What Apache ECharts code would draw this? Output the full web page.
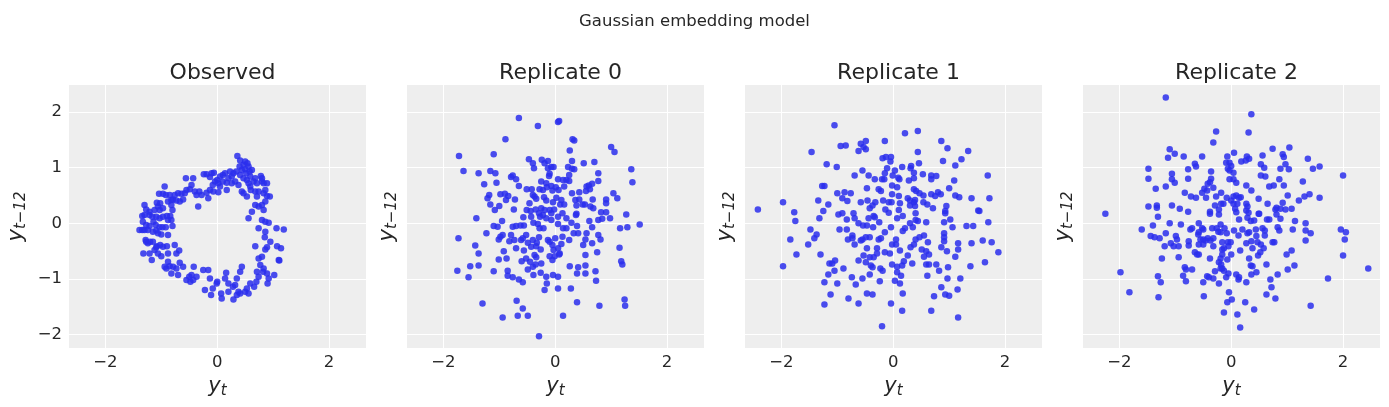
<!DOCTYPE html>
<html>
<head>
<meta charset="utf-8">
<script src="https://cdn.jsdelivr.net/npm/echarts@6/dist/echarts.min.js"></script>
<style>
  html, body { margin: 0; background: #fff; }
  #chart { width: 1389px; height: 407px; }
</style>
</head>
<body>
<div id="chart"></div>
<script>
// panel titles and tick values
const suptitle = "Gaussian embedding model";
const panelTitles = ["Observed", "Replicate 0", "Replicate 1", "Replicate 2"];
const xTicks = [-2, 0, 2];
const yTicks = [-2, -1, 0, 1, 2];

// [y_t, y_{t-12}] pairs
const observed = [
  [0.36,1.21],[0.41,1.13],[0.50,1.11],[0.47,1.05],[0.54,1.08],[0.40,1.02],[0.44,0.96],[0.50,0.97],[0.56,1.02],[0.52,0.90],[0.58,0.93],[0.62,0.96],[0.59,0.84],[0.53,0.78],[0.47,0.81],[0.41,0.87],[0.34,0.93],[0.29,0.90],[0.23,0.93],[0.26,0.84],[0.20,0.81],[0.14,0.90],[0.10,0.87],[0.05,0.84],[0.00,0.78],[-0.04,0.75],[-0.08,0.69],[-0.13,0.83],[-0.19,0.88],[-0.24,0.88],[-0.10,0.90],[-0.06,0.91],[0.02,0.72],[0.05,0.66],[0.10,0.75],[0.17,0.73],[0.17,0.60],[0.02,0.56],[-0.07,0.57],[0.26,0.72],[0.32,0.75],[0.38,0.69],[0.44,0.57],[0.47,0.54],[0.53,0.48],[0.56,0.72],[0.65,0.75],[0.68,0.81],[0.71,0.72],[0.78,0.85],[0.80,0.75],[0.83,0.72],[0.89,0.72],[0.86,0.60],[0.83,0.54],[0.74,0.57],[0.71,0.48],[0.68,0.57],[0.60,0.60],[0.59,0.66],[0.80,0.81],
  [0.89,0.49],[0.94,0.48],[0.86,0.39],[0.80,0.33],[0.83,0.24],[0.74,0.30],[0.68,0.33],[0.62,0.21],[0.56,0.09],[0.80,0.06],[0.86,0.03],[0.92,0.01],[0.74,-0.09],[0.86,-0.15],[1.06,-0.09],[1.19,-0.11],[0.85,-0.25],[0.95,-0.33],[0.89,-0.43],[0.86,-0.47],[1.07,-0.41],[1.14,-0.45],[0.68,-0.41],[0.74,-0.63],[0.80,-0.60],[0.77,-0.75],[0.83,-0.81],[0.89,-0.90],[0.92,-0.99],[0.90,-1.08],[1.02,-0.93],[1.10,-0.66],[1.11,-0.67],[0.82,-0.87],[0.71,-0.87],[0.74,-0.96],[0.70,-1.05],[0.66,-1.14],[0.59,-1.08],[0.53,-1.17],[0.50,-1.23],[0.56,-1.26],[0.44,-0.78],[0.41,-0.87],[0.35,-0.99],[0.32,-1.11],[0.28,-1.14],[0.38,-1.23],[0.41,-1.26],[0.35,-1.29],[0.29,-1.37],[0.20,-1.08],[0.20,-1.23],[0.16,-0.89],[0.14,-0.99],[0.07,-1.26],[0.08,-1.35],[0.00,-1.05],[-0.01,-1.08],[-0.08,-1.17],[-0.13,-0.99],[-0.11,-1.29],[-0.22,-1.20],[-0.16,-0.84],[-0.25,-0.84],[-0.37,-0.96],[-0.42,-0.78],[-0.46,-0.93],[-0.50,-0.96],[-0.55,-1.02],[-0.48,-1.05],[-0.43,-1.02],[-0.61,-0.78],[-0.67,-0.71],[-0.73,-0.81],[-0.70,-0.93],[-0.79,-0.78],[-0.85,-0.77],[-0.91,-0.81],[-0.94,-0.78],[-0.88,-0.69],[-0.82,-0.90],
  [-0.73,-0.54],[-0.68,-0.49],[-0.76,-0.39],[-0.90,-0.41],[-0.88,-0.54],[-1.00,-0.59],[-1.06,-0.54],[-1.09,-0.43],[-1.12,-0.48],[-1.17,-0.66],[-1.21,-0.54],[-1.32,-0.54],[-1.24,-0.36],[-1.27,-0.33],[-1.20,-0.33],[-1.28,-0.30],[-1.15,-0.33],[-1.08,-0.41],[-1.02,-0.39],[-0.97,-0.42],[-0.88,-0.21],[-1.00,-0.20],[-1.06,-0.18],[-1.09,-0.13],[-1.15,-0.15],[-1.24,-0.12],[-1.30,-0.12],[-1.39,-0.12],[-1.34,-0.12],[-1.33,0.03],[-1.27,-0.03],[-1.21,-0.05],[-1.14,0.03],[-1.10,-0.03],[-1.03,-0.07],[-0.98,-0.07],[-0.92,-0.07],[-0.80,-0.05],[-0.88,0.06],[-0.82,0.06],[-0.84,0.13],[-0.90,0.13],[-0.97,0.12],[-1.03,0.09],[-1.09,0.12],[-1.16,0.12],[-1.21,0.15],[-1.30,0.15],[-1.34,0.13],[-1.30,0.33],[-1.27,0.25],[-1.21,0.21],[-1.12,0.24],[-1.06,0.30],[-1.03,0.24],[-0.97,0.27],[-1.02,0.36],[-1.08,0.37],[-1.04,0.53],[-0.97,0.53],[-0.92,0.51],[-0.85,0.51],[-0.82,0.42],[-0.79,0.43],[-0.80,0.24],[-0.82,0.33],[-0.73,0.41],[-0.67,0.39],[-0.61,0.43],[-0.58,0.54],[-0.55,0.60],[-0.49,0.61],[-0.43,0.81],[-0.46,0.69],[-0.56,0.81],[-0.40,0.57],[-0.37,0.51],[-0.32,0.57],[-0.28,0.51],[-0.16,0.45],[-0.34,0.30],[-0.94,0.66],[-0.70,0.54],[-0.64,0.53],[-0.76,0.51],[-0.88,0.39],[-0.19,0.55],[-0.13,0.60]
];

const replicate0 = [
  [-0.65,1.89],[-0.31,1.75],[0.05,1.82],[0.07,1.84],[-0.89,1.51],[0.31,1.51],[0.34,1.49],[1.00,1.37],[1.06,1.28],[-1.72,1.21],[-1.10,1.24],[0.26,1.31],[-0.47,1.15],[-0.40,1.08],[-0.38,0.99],[-0.24,1.14],[-0.19,1.08],[-0.13,1.12],[-0.13,0.99],[-0.07,1.01],[-0.03,1.01],[-0.10,0.89],[-0.11,0.85],[0.30,1.12],[0.23,1.01],[0.30,0.98],[0.34,0.97],[0.51,1.08],[0.70,1.10],[0.77,0.90],[0.77,0.76],[1.36,0.97],[1.38,0.74],[-1.64,0.94],[-1.37,0.90],[-1.16,0.94],[-1.07,0.90],[-1.27,0.70],[-1.05,0.73],[-0.79,0.83],[-0.76,0.86],[-0.70,0.79],[-0.65,0.67],[-0.51,0.61],[-0.42,0.61],[-0.25,0.75],[-0.16,0.72],[-0.28,0.61],[-0.22,0.60],[-0.15,0.65],[-0.07,0.67],[0.01,0.65],[-0.05,0.59],[0.05,0.79],[0.14,0.78],[0.20,0.78],[0.25,0.76],[0.25,0.87],[0.16,0.66],[0.06,0.60],[0.30,0.54],[0.43,0.56],[0.56,0.66],[0.60,0.68],[0.66,0.71],[0.62,0.61],[0.55,0.58],[1.04,0.54],[1.11,0.45],[0.91,0.43],[0.91,0.36],[0.67,0.43],[-1.21,0.45],[-1.18,0.51],[-1.16,0.34],[-1.08,0.24],[-1.00,0.31],[-0.98,0.52],[-0.90,0.53],[-0.84,0.49],[-0.88,0.42],[-0.72,0.43],[-0.74,0.25],[-1.41,0.09],[-0.95,0.04],[-1.10,-0.05],[-1.03,-0.06],
  [-0.40,0.51],[-0.37,0.48],[-0.46,0.36],[-0.34,0.44],[-0.20,0.47],[-0.16,0.41],[-0.04,0.38],[0.02,0.46],[0.11,0.42],[0.09,0.34],[0.16,0.34],[0.36,0.42],[0.43,0.43],[0.38,0.32],[0.49,0.34],[0.53,0.34],[0.63,0.30],[0.68,0.27],[-0.51,0.24],[-0.44,0.22],[-0.35,0.25],[-0.25,0.27],[-0.19,0.24],[-0.10,0.24],[-0.02,0.25],[-0.57,0.11],[-0.43,0.12],[-0.29,0.18],[-0.27,0.12],[-0.22,0.15],[-0.16,0.09],[-0.07,0.18],[0.05,0.12],[0.13,0.18],[0.20,0.09],[0.37,0.15],[0.38,0.17],[0.61,0.04],[0.77,0.06],[0.84,0.08],[0.82,0.20],[0.91,0.20],[0.98,0.09],[1.27,0.16],[1.16,-0.09],[1.29,-0.07],[1.51,-0.02],[-0.76,-0.06],[-0.70,-0.05],[-0.62,-0.04],[-0.56,-0.04],[-0.39,0.01],[-0.31,-0.01],[-0.07,0.06],[0.05,-0.01],[0.14,-0.09],[0.20,-0.09],[0.29,0.01],[0.39,-0.05],[0.66,-0.07],
  [-1.73,-0.27],[-1.75,-0.85],[-1.55,-0.97],[-1.52,-0.77],[-1.37,-0.76],[-1.37,-0.54],[-1.43,-0.40],[-1.23,-0.18],[-1.10,-0.86],[-1.01,-0.65],[-0.92,-0.50],[-0.87,-0.63],[-0.85,-0.85],[-0.85,-0.94],[-0.76,-0.97],[-0.65,-1.01],[-0.58,-1.06],[-1.01,-0.29],[-0.98,-0.24],[-0.94,-0.21],[-0.82,-0.32],[-0.79,-0.21],[-0.73,-0.30],[-0.70,-0.45],[-0.61,-0.30],[-0.58,-0.27],[-0.52,-0.21],[-0.49,-0.35],[-0.43,-0.42],[-0.40,-0.30],[-0.33,-0.35],[-0.34,-0.41],[-0.56,-0.49],[-0.60,-0.68],[-0.52,-0.63],[-0.49,-0.83],[-0.45,-0.69],[-0.40,-0.78],[-0.37,-0.57],[-0.34,-0.61],[-0.39,-0.93],[-0.35,-0.74],[-0.25,-0.72],[-0.26,-0.89],[-0.26,-0.47],[-0.29,-0.25],[-0.28,-0.09],[-0.21,-0.09],[-0.13,-0.30],[-0.10,-0.33],[-0.05,-0.39],[-0.03,-0.48],[0.00,-0.27],[0.05,-0.45],[0.08,-0.54],[0.11,-0.37],[0.13,-0.24],[0.25,-0.30],[0.33,-0.18],[0.41,-0.18],[0.54,-0.29],[0.56,-0.18],[0.77,-0.21],[0.81,-0.29],[0.50,-0.39],[0.54,-0.57],[0.66,-0.36],[0.75,-0.52],[-0.10,-0.59],[-0.05,-0.66],[-0.01,-0.59],[0.07,-0.56],[-0.16,-0.96],[-0.04,-0.93],[0.05,-0.96],[-0.15,-1.08],[-0.19,-1.20],[0.05,-1.17],[0.28,-1.17],[0.26,-0.77],[0.41,-0.79],[0.39,-0.90],[0.54,-0.76],[0.54,-0.90],[0.72,-0.86],[0.73,-1.03],[1.15,-0.44],[1.18,-0.68],[1.20,-0.74],[-1.30,-1.44],[-0.94,-1.69],[-0.69,-1.39],[-0.58,-1.53],[-0.67,-1.66],[-0.49,-1.66],[-0.29,-2.03],[0.14,-1.66],[0.39,-1.42],[0.79,-1.48],[1.24,-1.37],[1.25,-1.48]
];

const replicate1 = [
  [-1.05,1.76],[0.21,1.62],[0.44,1.66],[-1.46,1.28],[-0.94,1.39],[-0.85,1.40],[-0.58,1.43],[-0.49,1.48],[-0.53,1.37],[-0.49,1.33],[-0.62,1.30],[-0.15,1.48],[0.86,1.48],[0.97,1.35],[1.34,1.30],[0.44,1.28],[-1.19,1.06],[-1.01,1.01],[-0.19,1.17],[-0.13,1.19],[-0.04,1.19],[-0.05,1.11],[0.46,1.08],[0.32,1.03],[0.31,0.99],[0.89,1.12],[1.22,1.15],[1.11,1.04],[1.69,0.86],[-0.55,0.95],[-0.69,0.86],[-0.44,0.86],[-0.33,0.79],[-0.20,0.79],[-0.16,0.79],[-0.15,0.90],[-0.11,0.99],[0.03,0.95],[-0.01,0.86],[0.09,0.82],[0.11,0.79],[0.16,1.01],[0.28,0.77],[0.37,0.91],[0.37,0.81],[0.53,0.88],[0.68,0.86],[0.77,0.85],[0.68,0.79],[1.09,0.77],[-1.27,0.67],[-1.23,0.67],[-1.00,0.54],[-0.87,0.56],[-0.76,0.54],[-0.91,0.45],[-0.82,0.40],[-1.34,0.41],[-1.16,0.34],[-1.25,0.22],[-1.32,0.09],[-1.97,0.38],[-1.77,0.20],[-1.75,0.04],[-2.42,0.25],[-1.48,-0.11],
  [-0.47,0.63],[-0.58,0.38],[-0.46,0.41],[-0.32,0.38],[-0.37,0.32],[-0.42,0.27],[-0.26,0.61],[-0.22,0.58],[-0.18,0.41],[-0.08,0.38],[-0.03,0.38],[-0.02,0.68],[0.07,0.65],[-0.02,0.52],[0.10,0.49],[0.12,0.36],[-0.14,0.25],[-0.08,0.19],[0.10,0.24],[0.17,0.13],[0.26,0.45],[0.30,0.41],[0.39,0.42],[0.37,0.61],[0.41,0.58],[0.47,0.54],[0.54,0.50],[0.37,0.38],[0.30,0.32],[0.39,0.31],[0.54,0.38],[0.61,0.34],[0.68,0.52],[0.75,0.49],[0.80,0.56],[0.85,0.52],[1.00,0.63],[1.11,0.50],[1.18,0.47],[1.40,0.45],[1.72,0.45],[0.71,0.27],[0.95,0.31],[0.93,0.22],[0.93,0.18],[1.02,0.07],[0.91,0.02],[1.52,0.23],[1.54,0.22],[1.70,0.02],[1.31,-0.05],[1.43,-0.05],[1.06,-0.07],[0.40,0.18],[0.40,0.06],[0.44,0.04],[0.59,0.02],[0.30,0.00],[0.35,-0.07],[0.21,-0.09],[-0.04,-0.07],[0.07,0.09],[-0.25,0.02],[-0.35,0.13],[-0.33,0.11],[-0.44,0.09],[-0.47,-0.04],[-0.36,-0.07],[-0.62,0.00],[-0.69,0.09],[-0.71,0.18],[-0.83,0.07],[-0.91,0.18],[-0.98,0.16],[-0.96,-0.11],[-0.83,-0.11],[-0.54,-0.04],
  [-1.97,-0.77],[-1.84,-0.29],[-1.73,-0.56],[-1.52,-0.38],[-1.37,-0.20],[-1.41,-0.27],[-1.30,-0.56],[-1.16,-0.92],[-1.23,-1.06],[-1.12,-1.28],[-1.23,-1.46],[-1.14,-0.72],[-1.09,-0.72],[-1.04,-0.67],[-1.05,-0.85],[-1.00,-1.08],[-0.89,-0.81],[-0.81,-0.29],[-0.73,-0.22],[-0.73,-0.27],[-0.69,-0.38],[-0.62,-0.67],[-0.58,-0.31],[-0.55,-0.29],[-0.49,-0.25],[-0.42,-0.25],[-0.47,-0.45],[-0.53,-0.58],[-0.49,-0.70],[-0.40,-0.76],[-0.37,-0.79],[-0.42,-0.61],[-0.35,-0.61],[-0.74,-0.97],[-0.55,-0.99],[-0.42,-0.92],[-0.67,-1.10],[-0.80,-1.35],[-0.62,-1.44],[-0.47,-1.26],[-0.37,-1.28],[-0.29,-0.54],[-0.29,-0.45],[-0.26,-0.29],[-0.22,-0.27],[-0.15,-0.16],[-0.15,-0.52],[-0.06,-0.54],[-0.23,-0.81],[-0.19,-0.85],[-0.24,-1.04],[-0.02,-0.38],[0.05,-0.38],[0.05,-0.29],[0.12,-0.49],[-0.02,-0.74],[0.07,-0.78],[0.16,-0.76],[0.19,-0.68],[0.07,-0.88],[0.14,-0.94],[0.03,-1.03],[0.12,-1.08],[0.17,-1.26],[-0.04,-1.44],[0.16,-1.57],[-0.20,-1.85],[0.17,-0.14],[0.26,-0.58],[0.31,-0.43],[0.37,-0.38],[0.40,-0.29],[0.34,-0.72],[0.55,-0.22],[0.47,-0.25],[0.62,-0.34],[0.51,-0.47],[0.59,-0.50],[0.64,-0.56],[0.55,-0.60],[0.59,-0.74],[0.64,-0.74],[0.61,-0.94],[0.77,-0.74],[0.82,-0.85],[0.86,-0.43],[0.91,-0.18],[0.91,-0.25],[0.91,-0.32],[0.96,-0.50],[0.98,-0.79],[0.97,-0.99],[0.86,-1.15],[0.93,-1.28],[1.00,-1.30],[0.73,-1.31],[0.68,-1.57],[1.15,-1.19],[1.16,-1.69],[1.20,-0.99],[1.11,-0.60],[1.16,-0.47],[1.16,-0.36],[1.40,-0.36],[1.38,-0.77],[1.60,-0.31],[1.76,-0.34],[1.88,-0.52],[1.64,-0.70]
];

const replicate2 = [
  [-1.17,2.26],[0.36,1.96],[-0.27,1.65],[0.31,1.63],[-0.32,1.45],[-1.10,1.33],[-1.01,1.25],[-1.13,1.18],[-0.85,1.20],[-0.52,1.20],[-0.07,1.20],[0.05,1.27],[0.28,1.20],[0.32,1.16],[0.18,1.11],[0.26,1.13],[0.56,1.22],[0.74,1.34],[0.92,1.24],[0.94,1.19],[1.04,1.36],[1.37,1.16],[-1.48,0.98],[-1.48,0.80],[-1.35,0.62],[-1.17,0.66],[-1.06,0.89],[-1.06,0.79],[-1.01,0.73],[-0.77,0.97],[-0.77,0.80],[-0.65,1.07],[-0.63,1.02],[-0.36,0.93],[-0.36,0.80],[-0.38,0.74],[-0.42,0.71],[-0.09,1.09],[-0.03,1.09],[0.00,1.03],[-0.06,0.98],[-0.03,0.95],[0.04,0.91],[-0.03,0.79],[0.04,0.79],[0.09,0.73],[0.27,0.68],[0.36,0.59],[0.53,1.06],[0.59,1.00],[0.53,0.86],[0.61,0.84],[0.88,0.98],[0.97,1.06],[1.03,0.97],[0.86,0.79],[0.94,0.68],[0.76,0.68],[0.68,0.66],[1.28,0.75],[1.46,0.98],[1.58,1.02],[2.00,0.86],
  [-0.83,0.55],[-0.72,0.48],[-0.63,0.46],[-0.52,0.55],[-0.48,0.62],[-0.43,0.59],[-0.32,0.64],[-0.45,0.46],[-0.27,0.48],[-0.18,0.55],[-0.08,0.46],[0.04,0.48],[0.09,0.50],[0.14,0.46],[0.17,0.47],[0.49,0.44],[0.65,0.35],[0.92,0.37],[1.01,0.50],[1.21,0.41],[1.31,0.48],[1.40,0.52],[1.58,0.46],[1.08,0.26],[0.97,0.25],[0.88,0.26],[0.81,0.28],[0.79,0.25],[0.88,0.08],[0.81,0.16],[0.64,0.07],[0.68,0.07],[-1.48,0.30],[-1.33,0.32],[-1.33,0.28],[-1.31,0.12],[-1.06,0.32],[-0.92,0.26],[-0.77,0.21],[-2.25,0.17],[-0.38,0.21],[-0.38,0.17],[-0.29,0.32],[-0.22,0.25],[-0.22,0.16],[-0.18,0.35],[-0.14,0.35],[0.00,0.41],[0.04,0.35],[0.07,0.26],[0.09,0.20],[0.11,0.35],[0.27,0.35],[0.29,0.30],[0.27,0.23],[0.31,0.19],[0.29,0.10],[0.49,0.17],[0.50,0.17],[0.14,0.07],[0.41,0.05],[0.35,0.04],[-0.58,0.00],[-0.90,-0.02],[-1.10,0.00],[-1.40,-0.04],[1.14,0.04],[1.33,0.00],
  [-1.60,-0.11],[-1.17,-0.18],[-1.44,-0.23],[-1.37,-0.25],[-1.28,-0.27],[-1.19,-0.41],[-1.08,-0.36],[-1.03,-0.41],[-0.99,-0.23],[-0.97,-0.29],[-0.94,-0.41],[-1.24,-0.63],[-0.94,-0.61],[-0.76,-0.40],[-0.76,-0.32],[-0.73,-0.11],[-0.70,-0.09],[-0.58,-0.16],[-0.59,-0.20],[-0.52,-0.09],[-0.50,-0.11],[-0.55,-0.29],[-0.50,-0.29],[-0.46,-0.31],[-0.58,-0.38],[-0.50,-0.38],[-0.42,-0.27],[-0.37,-0.31],[-0.32,-0.27],[-0.32,-0.41],[-0.34,-0.09],[-0.26,-0.09],[-0.23,-0.15],[-0.19,-0.02],[-0.19,-0.16],[-0.08,-0.18],[-0.12,-0.09],[-0.16,-0.34],[-0.06,-0.34],[-0.01,-0.34],[-0.13,-0.45],[-0.05,-0.41],[-0.16,-0.47],[-0.65,-0.52],[-0.61,-0.56],[-0.58,-0.56],[-0.38,-0.63],[-0.16,-0.56],[0.00,-0.56],[-0.07,-0.65],[-0.19,-0.63],[-0.22,-0.70],[-0.18,-0.74],[-0.16,-0.81],[-0.19,-0.81],[-0.29,-0.86],[-0.05,-0.90],[-0.09,-0.97],[-0.13,-0.85],[-0.83,-0.79],[-0.81,-0.83],[-0.70,-0.83],[-0.86,-0.94],[-0.81,-1.04],[-0.43,-0.95],[-0.40,-0.97],[-0.50,-1.06],[-0.32,-0.99],[-0.22,-1.08],
  [0.05,-0.13],[0.13,-0.22],[0.20,-0.11],[0.29,-0.18],[0.32,-0.16],[0.44,-0.11],[0.56,-0.09],[0.60,-0.13],[0.60,-0.22],[0.45,-0.23],[0.27,-0.36],[0.36,-0.32],[0.38,-0.45],[0.47,-0.34],[0.53,-0.38],[0.58,-0.45],[0.52,-0.52],[0.48,-0.58],[0.16,-0.49],[0.32,-0.63],[0.35,-0.76],[0.38,-0.77],[0.45,-0.88],[0.36,-0.92],[0.63,-0.74],[0.74,-0.34],[0.77,-0.34],[0.83,-0.07],[0.86,-0.13],[1.08,-0.49],[0.99,-0.56],[1.13,-0.76],[1.01,-0.83],[0.83,-0.92],[0.70,-1.01],[0.72,-1.15],[0.63,-1.28],[0.79,-1.35],[1.10,-0.11],[1.33,-0.13],[1.33,-0.31],[1.42,-0.18],[1.96,-0.11],[2.05,-0.16],[2.03,-0.29],[2.00,-0.58],[2.45,-0.81],[1.73,-0.99],[1.42,-1.48],[-1.98,-0.88],[-1.82,-1.24],[-1.31,-0.95],[-1.26,-1.06],[-1.30,-1.33],[-0.49,-1.31],[-0.04,-1.24],[0.01,-1.37],[-0.07,-1.42],[-0.13,-1.60],[0.11,-1.64],[0.16,-1.87],[0.25,-1.42],[0.41,-1.55],[0.13,-1.01],[0.14,-0.97],[0.27,-1.06],[0.09,-0.92]
];

const panels = [observed, replicate0, replicate1, replicate2];

const chart = echarts.init(document.getElementById("chart"));
const font = "DejaVu Sans";
const textColor = "#262626";
const minus = (v) => String(v).replace("-", "\u2212");
const nameRich = {
  a: { fontFamily: font, fontStyle: "italic", fontSize: 21, color: textColor, lineHeight: 24 },
  b: { fontFamily: font, fontStyle: "italic", fontSize: 15, color: textColor, lineHeight: 15, verticalAlign: "bottom" },
};

chart.setOption({
  backgroundColor: "#fff",
  animation: false,
  title: [
    { text: suptitle, left: "center", top: 8, textStyle: { fontFamily: font, fontSize: 16.5, fontWeight: "normal", color: textColor } },
  ].concat(panelTitles.map((t, i) => ({
    text: t,
    left: 217.5 + 338 * i,
    textAlign: "center",
    top: 57,
    textStyle: { fontFamily: font, fontSize: 22, fontWeight: "normal", color: textColor },
  }))),
  grid: panels.map((_, i) => ({
    left: 69 + 338 * i, top: 85, width: 297, height: 263,
    show: true, backgroundColor: "#eeeeee", borderWidth: 0,
  })),
  xAxis: panels.map((_, i) => ({
    gridIndex: i, type: "value", min: -2.65, max: 2.66,
    axisLine: { show: false },
    axisTick: { show: false, customValues: xTicks },
    axisLabel: { customValues: xTicks, formatter: minus, fontFamily: font, fontSize: 16.5, color: textColor, margin: 6 },
    splitLine: { show: true, lineStyle: { color: "#ffffff", width: 1 } },
    name: "{a|y}{b|t}", nameLocation: "middle", nameGap: 27,
    nameTextStyle: { rich: nameRich },
  })),
  yAxis: panels.map((_, i) => ({
    gridIndex: i, type: "value", min: -2.24, max: 2.485,
    axisLine: { show: false },
    axisTick: { show: false, customValues: yTicks },
    axisLabel: { show: i === 0, customValues: yTicks, formatter: minus, fontFamily: font, fontSize: 16.5, color: textColor, margin: 7 },
    splitLine: { show: true, lineStyle: { color: "#ffffff", width: 1 } },
    name: "{a|y}{b|t\u221212}", nameLocation: "middle", nameRotate: 90,
    nameGap: i === 0 ? 40 : 7,
    nameTextStyle: { rich: nameRich },
  })),
  series: panels.map((pts, i) => ({
    type: "scatter", xAxisIndex: i, yAxisIndex: i, data: pts,
    symbolSize: 6.5,
    itemStyle: { color: "#2a2eec", opacity: 0.85 },
  })),
});
</script>
</body>
</html>
